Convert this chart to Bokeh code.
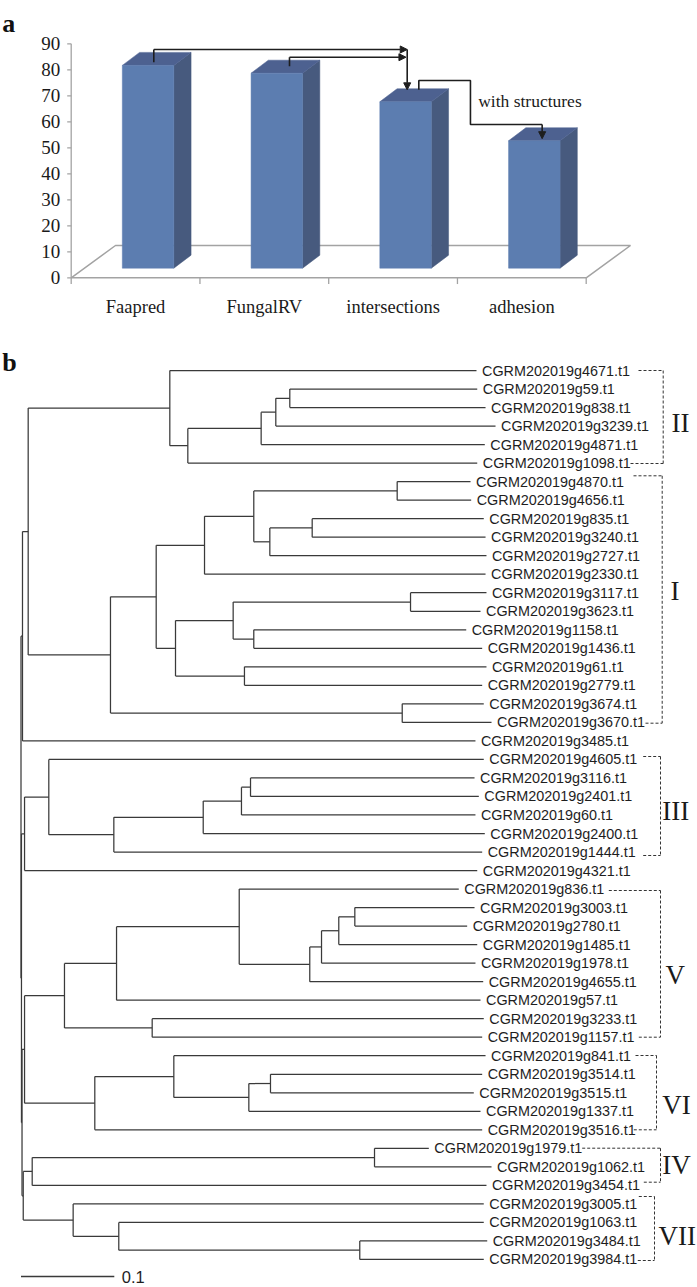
import re
from bokeh.plotting import figure
from bokeh.layouts import column
from bokeh.models import ColumnDataSource, Range1d, Arrow, NormalHead
from bokeh.core.properties import value
from bokeh.embed import file_html
from bokeh.resources import INLINE

# ---------------- Panel a data ----------------
categories = ["Faapred", "FungalRV", "intersections", "adhesion"]
counts = [78, 75, 64, 49]
y_ticks = [0, 10, 20, 30, 40, 50, 60, 70, 80, 90]
annotation_text = "with structures"

# ---------------- Panel b data ----------------
LEAF_PREFIX = "CGRM202019"
LEAF_SUFFIX = ".t1"
NEWICK = """
(((
(g4671:0.3287,((((g59:0.2009,g838:0.2098):0.0150,g3239:0.2355):0.0157,g4871:0.2397):0.0786,g1098:0.3102):0.0193):0.1518,
(((((g4870:0.0786,g4656:0.0793):0.1537,((g835:0.1839,g3240:0.1858):0.0454,g2727:0.2322):0.0172):0.0528,g2330:0.3012):0.0518,
(((g3117:0.0814,g3623:0.0750):0.1901,(g1158:0.2277,g1436:0.2448):0.0221):0.0618,(g61:0.2594,g2779:0.2548):0.0739):0.0207):0.0490,
(g3674:0.0874,g3670:0.0957):0.3127):0.0882
):0.0061,g3485:0.4855):0.0016,
(((g4605:0.4662,((((g3116:0.2401,g2401:0.2447):0.0097,g60:0.2508):0.0410,g2400:0.3018):0.0958,g1444:0.3948):0.0697):0.0260,g4321:0.4852):0.0033,
(((((g836:0.2353,((((g3003:0.1283,g2780:0.1204):0.0172,g1485:0.1484):0.0185,g1978:0.1650):0.0126,g4655:0.1859):0.0756):0.1315,g57:0.3901):0.0558,
(g3233:0.3554,g1157:0.3537):0.0940):0.0428,
((g841:0.3341,((g3514:0.2269,g3515:0.2179):0.0232,g1337:0.2483):0.0804):0.0847,g3516:0.4152):0.0753):0.0027,
(((g1979:0.0582,g1062:0.1254):0.3669,g3454:0.4869):0.0096,
(g3005:0.4401,(g1063:0.3912,(g3484:0.1366,g3984:0.1329):0.2583):0.0489):0.0535):0.0013):0.0006):0.0005);
"""
clade_names = ["II", "I", "III", "V", "VI", "IV", "VII"]
scale_bar_length = 0.1
scale_bar_text = "0.1"

W = 697
SERIF = value("Liberation Serif")
SANS = value("Liberation Sans")

def no_align(p):
    try:
        p.frame_align = False
    except Exception:
        pass

# ================= Panel a =================
CAT_PX = 128.75   # px per category
VAL_PX = 2.6      # px per unit
H1 = 318
AX_PX = 70.7      # screen x of the value axis
Z_PX = 277.3      # screen y of value 0
xa0 = -AX_PX / CAT_PX
p1 = figure(width=W, height=H1, output_backend="svg", toolbar_location=None,
            x_range=Range1d(xa0, xa0 + W / CAT_PX),
            y_range=Range1d(-(H1 - Z_PX) / VAL_PX, Z_PX / VAL_PX),
            min_border=0, x_axis_type=None, y_axis_type=None)
p1.outline_line_color = None
p1.background_fill_color = "white"
p1.border_fill_color = "white"
no_align(p1)

GRAY = "#a3a3a3"
n = len(categories)
FD_X, FD_Y = 0.344, 12.42        # floor depth
BP_X, BP_Y = 0.097, 3.7          # bar plane offset in the floor
BW = 0.40                        # bar width
BD_X, BD_Y = 0.134, 5.0          # bar depth
TICK = 4.0 / CAT_PX

# value axis
p1.segment(x0=[0], y0=[y_ticks[0]], x1=[0], y1=[y_ticks[-1]], line_color=GRAY, line_width=1.3)
p1.segment(x0=[-TICK] * len(y_ticks), y0=y_ticks, x1=[0] * len(y_ticks), y1=y_ticks,
           line_color=GRAY, line_width=1.2)
p1.text(x=[0] * len(y_ticks), y=y_ticks, text=[str(t) for t in y_ticks], x_offset=-11,
        text_font=SERIF, text_font_size="19px", text_color="#1a1a1a",
        text_align="right", text_baseline="middle")

# floor and category ticks
p1.patch(x=[0, n, n + FD_X, FD_X], y=[0, 0, FD_Y, FD_Y], fill_color="white",
         line_color=GRAY, line_width=1.5)
p1.segment(x0=list(range(n + 1)), y0=[0] * (n + 1), x1=list(range(n + 1)),
           y1=[-2.4] * (n + 1), line_color=GRAY, line_width=1.3)

front = dict(left=[], right=[], bottom=[], top=[])
top_xs, top_ys, side_xs, side_ys = [], [], [], []
for i, v in enumerate(counts):
    xl = i + 0.5 + BP_X - BW / 2
    xr = xl + BW
    b = BP_Y
    t = BP_Y + v
    front["left"].append(xl); front["right"].append(xr)
    front["bottom"].append(b); front["top"].append(t)
    top_xs.append([xl, xr, xr + BD_X, xl + BD_X])
    top_ys.append([t, t, t + BD_Y, t + BD_Y])
    side_xs.append([xr, xr + BD_X, xr + BD_X, xr])
    side_ys.append([b, b + BD_Y, t + BD_Y, t])
p1.patches(xs=side_xs, ys=side_ys, fill_color="#475a7e", line_color="#475a7e", line_width=0.5)
p1.patches(xs=top_xs, ys=top_ys, fill_color="#4d6190", line_color="#4d6190", line_width=0.5)
p1.quad(source=ColumnDataSource(front), left="left", right="right", bottom="bottom", top="top",
        fill_color="#5c7db0", line_color="#5c7db0", line_width=0.5)

p1.text(x=[i + 0.5 for i in range(n)], y=[-11.1] * n, text=categories,
        text_font=SERIF, text_font_size="18.5px", text_color="#1a1a1a",
        text_align="center", text_baseline="alphabetic")

ARROW_C = "#1e1e1e"
def head():
    return NormalHead(size=7, fill_color=ARROW_C, line_color=ARROW_C, line_width=1)

# Faapred -> intersections
p1.line(x=[0.6416, 0.6416], y=[82.9, 87.81], line_color=ARROW_C, line_width=1.6)
p1.add_layout(Arrow(end=head(), x_start=0.6416, y_start=87.81, x_end=2.61, y_end=87.81,
                    line_color=ARROW_C, line_width=1.6))
# FungalRV -> intersections
p1.line(x=[1.6955, 1.6955], y=[81.4, 84.85], line_color=ARROW_C, line_width=1.6)
p1.add_layout(Arrow(end=head(), x_start=1.6955, y_start=84.85, x_end=2.60, y_end=84.85,
                    line_color=ARROW_C, line_width=1.6))
# down to intersections
p1.add_layout(Arrow(end=head(), x_start=2.6097, y_start=87.81, x_end=2.6097, y_end=72.3,
                    line_color=ARROW_C, line_width=1.6))
# intersections -> adhesion
p1.line(x=[2.70, 2.70, 3.101, 3.101, 3.658], y=[72.3, 75.88, 75.88, 58.96, 58.96],
        line_color=ARROW_C, line_width=1.6)
p1.add_layout(Arrow(end=head(), x_start=3.658, y_start=58.96, x_end=3.658, y_end=53.5,
                    line_color=ARROW_C, line_width=1.6))
p1.text(x=[3.161], y=[67.9], text=[annotation_text], text_font=SERIF, text_font_size="17.5px",
        text_color="#1a1a1a", text_align="left", text_baseline="middle")

p1.text(x=[(1.7 - AX_PX) / CAT_PX], y=[(Z_PX - 23.3) / VAL_PX], text=["a"],
        text_font=SERIF, text_font_style="bold", text_font_size="26px",
        text_color="#111111", text_baseline="alphabetic", text_align="left")

# ================= Panel b =================
def parse_newick(s):
    s = re.sub(r"\s+", "", s).rstrip(";")
    pos = 0
    def node():
        nonlocal pos
        nd = {"children": [], "name": "", "length": 0.0}
        if s[pos] == "(":
            pos += 1
            while True:
                nd["children"].append(node())
                if s[pos] == ",":
                    pos += 1
                    continue
                pos += 1  # ')'
                break
        m = re.match(r"[^:,();]*", s[pos:])
        nd["name"] = m.group(0)
        pos += len(m.group(0))
        if pos < len(s) and s[pos] == ":":
            pos += 1
            m = re.match(r"[0-9.eE+-]+", s[pos:])
            nd["length"] = float(m.group(0))
            pos += len(m.group(0))
        return nd
    return node()

tree = parse_newick(NEWICK)
leaves = []
hs = dict(x0=[], x1=[], y=[])
vs = dict(x=[], y0=[], y1=[])

def layout(nd, parent_x):
    nd["x"] = parent_x + nd["length"]
    if not nd["children"]:
        nd["y"] = float(len(leaves))
        leaves.append(nd)
    else:
        for c in nd["children"]:
            layout(c, nd["x"])
        ys = [c["y"] for c in nd["children"]]
        nd["y"] = (ys[0] + ys[-1]) / 2
        vs["x"].append(nd["x"]); vs["y0"].append(min(ys)); vs["y1"].append(max(ys))
    if nd is not tree:
        hs["x0"].append(parent_x); hs["x1"].append(nd["x"]); hs["y"].append(nd["y"])

layout(tree, 0.0)

UNIT_PX = 933.0       # screen px per unit of distance
ROOT_PX = 20.5        # screen x of the root
ROW_PX = 18.52
ROW0_PX = 370.0
H2 = 1287 - H1

def X(px):
    return (px - ROOT_PX) / UNIT_PX

def Y(py):
    return (py - ROW0_PX) / ROW_PX

p2 = figure(width=W, height=H2, output_backend="svg", toolbar_location=None,
            x_range=Range1d(X(0), X(W)), y_range=Range1d(Y(H1 + H2), Y(H1)),
            min_border=0, x_axis_type=None, y_axis_type=None)
p2.outline_line_color = None
p2.background_fill_color = "white"
p2.border_fill_color = "white"
no_align(p2)

LINE_C = "#3a3a3a"
p2.segment(source=ColumnDataSource(hs), x0="x0", y0="y", x1="x1", y1="y",
           line_color=LINE_C, line_width=1.25)
p2.segment(source=ColumnDataSource(vs), x0="x", y0="y0", x1="x", y1="y1",
           line_color=LINE_C, line_width=1.25)

labels = dict(x=[l["x"] for l in leaves], y=[l["y"] for l in leaves],
              text=[LEAF_PREFIX + l["name"] + LEAF_SUFFIX for l in leaves])
p2.text(source=ColumnDataSource(labels), x="x", y="y", text="text", x_offset=5.5,
        text_font=SANS, text_font_size="14.4px", text_color="#1e1e1e",
        text_align="left", text_baseline="middle")

# clade brackets (screen px): top start x, top y, bracket x, bottom start x, bottom y, label x, label y
BRACKET_LAYOUT = [
    (638.0, 370.0, 662.7, 630.0, 463.0, 671.0, 420.0),
    (633.0, 475.3, 661.7, 645.0, 722.7, 670.0, 588.0),
    (642.7, 756.0, 660.0, 642.7, 855.0, 661.7, 808.0),
    (608.3, 890.0, 660.0, 638.3, 1036.7, 665.0, 972.0),
    (635.0, 1055.0, 656.0, 633.3, 1129.3, 661.7, 1102.0),
    (581.7, 1147.7, 660.0, 643.3, 1181.7, 661.7, 1162.0),
    (638.3, 1196.0, 654.0, 637.3, 1260.0, 658.0, 1233.0),
]
bd = dict(x0=[], y0=[], x1=[], y1=[])
lab = dict(x=[], y=[], text=[])
for name, (tsx, ty, bx, bsx, by, lx, ly) in zip(clade_names, BRACKET_LAYOUT):
    for (a, b, c, d) in [(tsx, ty, bx, ty), (bx, ty, bx, by), (bsx, by, bx, by)]:
        bd["x0"].append(X(a)); bd["y0"].append(Y(b)); bd["x1"].append(X(c)); bd["y1"].append(Y(d))
    lab["x"].append(X(lx)); lab["y"].append(Y(ly + 2.5)); lab["text"].append(name)
p2.segment(source=ColumnDataSource(bd), x0="x0", y0="y0", x1="x1", y1="y1",
           line_color="#333333", line_width=1, line_dash="3 2")
p2.text(source=ColumnDataSource(lab), x="x", y="y", text="text", text_font=SERIF,
        text_font_size="27px", text_color="#1a1a1a", text_align="left", text_baseline="middle")

# scale bar
p2.segment(x0=[0.0], y0=[Y(1276)], x1=[scale_bar_length], y1=[Y(1276)], line_color=LINE_C, line_width=1.3)
p2.text(x=[scale_bar_length], y=[Y(1276)], text=[scale_bar_text], x_offset=7.5,
        text_font=SANS, text_font_size="16.5px", text_color="#1e1e1e",
        text_align="left", text_baseline="middle")

p2.text(x=[X(1.7)], y=[Y(361.7)], text=["b"], text_font=SERIF, text_font_style="bold",
        text_font_size="26px", text_color="#111111", text_align="left", text_baseline="alphabetic")

layout_all = column(p1, p2, spacing=0)
open("out.html", "w").write(file_html(layout_all, INLINE))
